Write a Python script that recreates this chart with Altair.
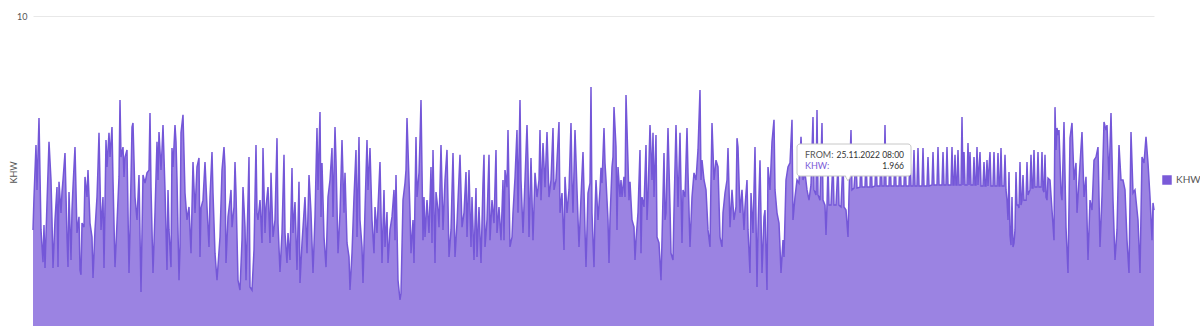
import altair as alt
import pandas as pd

# Meter readings: (period index, kWh). A period is 7 hours, counted from 01.04.2022 15:00.
START = "2022-04-01 15:00"
PERIOD_HOURS = 7
SERIES = "KHW"

segment_1 = [(0,3.10),(1,4.16),(3,5.84),(4,4.39),(6,6.71),(8,3.10),(10,2.06),(11,3.26),(12,1.87),(14,3.97),(16,5.94),(18,4.71),(19,3.42),(20,1.87),(22,3.42),(24,4.48),(25,1.90),(26,4.65),(28,3.65),(29,4.32),(30,4.71),(32,5.58),(34,2.87),(35,1.90),(36,4.32),(38,2.13),(39,3.74),(40,4.48),(42,5.77),(44,3.00),(46,3.52),(47,1.81),(48,1.65),(49,3.32),(51,3.19),(52,4.81),(54,4.16),(55,5.03),(57,3.32),(59,2.87),(60,1.55),(62,3.10),(64,4.16),(65,5.13),(66,6.23),(68,3.10),(70,4.16),(71,1.87),(73,6.00),(74,5.13),(76,6.23),(77,5.45),(79,6.42),(80,4.71),(82,1.90),(84,3.32),(86,4.81),(87,7.29),(88,5.45),(90,5.77),(91,4.81),(92,5.45),(94,5.68),(96,1.71),(97,3.10),(99,6.42),(100,6.55),(102,4.16),(104,3.42),(106,4.87),(108,1.10),(110,4.87),(112,4.61),(114,4.94),(116,5.03),(117,6.87),(118,4.48),(120,1.71),(122,3.65),(124,5.94),(125,4.71),(126,6.26),(128,5.03),(129,5.68),(130,6.48),(132,4.39),(134,1.81),(135,4.39),(136,3.10),(138,1.90),(139,5.74),(140,5.13),(142,6.48),(143,5.94),(144,4.71),(146,1.48),(147,2.55),(148,6.23),(150,6.81),(152,4.29),(154,3.42),(156,3.84),(158,2.35),(159,3.84),(160,5.29),(162,3.65),(164,5.13),(166,5.42),(167,2.23),(168,3.81),(170,4.06),(172,5.29),(174,3.84),(176,2.55),(177,4.16),(179,5.61),(180,4.29),(182,2.35),(184,1.48)]

segment_2 = [(187,2.87),(189,5.03),(191,5.77),(192,5.13),(193,2.03),(195,3.52),(197,4.06),(198,4.39),(199,3.19),(201,3.84),(202,5.29),(203,4.29),(205,1.48),(207,1.16),(209,2.77),(210,4.48),(212,3.19),(213,1.48),(215,4.06),(216,5.45),(217,1.26),(219,1.16),(221,2.45),(223,5.84),(224,3.65),(225,3.42),(227,4.06),(229,2.68),(230,5.74),(232,3.00),(233,3.84),(235,4.48),(237,2.68),(238,4.94),(240,2.87),(242,3.42),(244,6.06),(245,3.32),(247,1.74),(249,3.00),(251,5.52),(252,3.00),(254,2.03),(255,3.00),(257,2.13),(259,5.10),(260,3.00),(262,4.00),(264,1.81),(266,4.65),(267,1.39),(269,2.68),(272,4.16),(274,2.35),(276,4.87),(278,3.65),(280,1.71),(282,3.52),(284,6.39),(285,4.39),(287,6.90),(288,3.52),(289,5.26),(291,2.87),(293,1.90),(295,4.16),(297,4.71),(299,5.74),(300,3.52),(302,6.42),(303,5.35),(305,2.35),(307,3.65),(309,6.00),(311,3.65),(312,4.94),(314,2.68),(316,2.23),(317,1.16),(319,2.35),(321,4.16),(323,5.68),(324,2.87),(326,6.10),(327,3.42),(329,2.55),(330,1.39),(332,3.74),(334,6.00),(335,4.39),(337,5.74),(339,3.42),(341,2.35),(342,3.84),(344,3.00),(345,3.81),(347,5.29),(349,2.03),(351,4.39),(352,2.55),(354,3.68),(355,2.03),(357,3.10),(359,3.52),(361,4.39),(362,2.77),(363,4.87),(365,1.48),(367,0.84)]

segment_3 = [(368,1.06),(370,4.06),(372,4.61),(373,5.03),(374,6.71),(376,4.71),(377,3.65),(378,2.35),(380,3.42),(381,2.03),(383,6.10),(384,4.16),(386,4.94),(387,6.00),(388,7.29),(390,2.77),(391,4.16),(392,2.87),(394,4.06),(396,3.00),(398,5.13),(399,2.68),(400,5.68),(402,2.03),(403,4.32),(405,3.74),(406,3.19),(408,5.84),(410,3.10),(412,4.71),(414,5.68),(416,2.23),(418,3.10),(420,5.58),(422,2.23),(424,3.32),(427,5.52),(429,3.19),(431,3.65),(433,4.97),(434,2.87),(436,5.03),(438,2.55),(439,4.16),(441,2.13),(443,4.45),(444,2.23),(446,3.84),(448,2.03),(450,4.61),(451,5.52),(452,2.55),(454,3.42),(456,5.52),(457,2.77),(459,4.06),(461,3.32),(463,5.68),(464,3.00),(466,3.84),(468,2.77),(470,4.71),(471,2.77),(472,5.03),(474,4.48),(475,6.32),(477,2.55),(479,2.87),(480,3.65),(482,4.77),(484,6.32),(485,3.65),(487,7.29),(488,4.71),(490,3.00),(492,4.71),(494,6.48),(495,5.26),(496,2.87),(498,5.42),(500,2.77),(502,4.94),(504,4.16),(506,4.71),(507,6.32),(508,4.06),(510,5.90),(512,4.48),(514,6.26),(516,4.16),(518,4.71),(520,6.39),(521,4.39),(523,4.71),(526,6.58),(527,3.65),(529,4.29),(531,2.45),(532,4.81),(534,3.65),(536,4.39),(538,6.55),(539,4.71),(540,3.65),(542,6.32),(544,4.39),(546,2.55),(548,4.16),(550,5.61),(552,3.10),(553,1.90)]

segment_4 = [(555,4.29),(557,4.61),(558,7.71),(559,3.65),(561,1.90),(562,3.65),(563,4.71),(565,3.42),(567,4.39),(568,5.10),(569,4.61),(571,6.39),(572,5.26),(573,4.71),(575,3.42),(576,2.03),(577,3.42),(579,5.13),(580,5.45),(581,7.06),(583,5.77),(584,3.10),(585,5.13),(587,4.16),(588,4.71),(589,4.16),(591,4.81),(592,4.16),(593,7.45),(595,5.26),(596,4.06),(597,4.65),(599,3.42),(601,3.19),(602,2.13),(603,2.77),(605,3.65),(607,5.68),(608,2.35),(609,4.16),(611,3.84),(613,5.84),(614,3.42),(615,4.16),(617,6.48),(619,4.71),(620,6.23),(621,4.16),(623,6.16),(624,2.87),(626,2.68),(628,1.48),(629,2.77),(631,5.58),(632,3.42),(633,3.65),(635,6.39),(637,3.84),(638,2.35),(640,2.13),(641,3.74),(643,6.48),(645,3.84),(647,6.23),(649,2.68),(650,4.39),(652,4.16),(654,6.39),(655,4.94),(657,2.55),(659,4.16),(661,4.94),(663,4.71),(665,5.68),(667,7.61),(668,4.71),(669,5.35),(671,4.71),(673,4.39),(675,3.10),(677,2.55),(678,4.71),(679,6.55),(681,4.71),(683,5.35),(685,5.13),(687,2.87),(689,2.55),(690,3.65),(692,4.29),(694,4.71),(695,5.74),(697,3.19),(699,4.39),(701,3.42),(703,3.84),(704,6.06),(705,5.77),(707,3.65),(709,4.39),(711,3.10),(712,3.84),(714,4.71),(715,3.10),(717,1.71),(718,4.29),(720,3.00),(722,5.77),(724,1.26),(725,3.10),(727,5.35),(729,1.71),(731,3.52),(732,3.74),(734,1.16),(735,5.13),(737,4.39),(739,5.94),(741,6.65)]

segment_5 = [(742,4.39),(744,3.65),(746,3.32),(747,2.55),(748,1.71),(750,2.77),(751,2.23),(753,4.71),(755,5.13),(757,5.26),(759,6.65),(760,3.42),(762,4.16),(764,4.71),(766,4.61),(768,6.10),(770,4.71),(772,4.94),(774,4.39),(776,4.06),(778,4.55),(780,6.74),(781,4.39),(783,4.23),(784,6.97),(785,4.23),(787,4.06),(789,6.55),(790,4.06),(792,3.90),(793,2.94),(794,3.90),(795,5.19),(796,3.90),(798,3.90),(800,5.35),(801,3.90),(803,3.90),(805,5.19),(806,3.90),(808,3.84),(810,5.35),(811,3.84),(813,3.74),(815,2.87),(816,4.23),(818,6.32),(819,4.39)]

segment_6 = [(821,4.45),(823,5.35),(824,4.45),(827,4.48),(828,5.52),(829,4.48),(832,4.48),(833,5.42),(834,4.48),(837,4.48),(838,5.68),(839,4.48),(842,4.52),(843,5.52),(844,4.52),(847,4.52),(848,5.61),(849,4.52),(851,4.52),(852,6.48),(853,4.52),(856,4.52),(857,5.52),(858,4.52),(861,4.52),(862,5.68),(863,4.52),(866,4.52),(867,5.42),(868,4.52),(871,4.52),(872,5.68),(873,4.52),(876,4.52),(877,5.52),(878,4.52),(880,4.52),(881,5.68),(882,4.52),(884,4.52),(885,5.74),(886,4.52),(889,4.52),(890,5.74),(891,4.52),(894,4.52),(895,5.45),(896,4.52),(899,4.55),(900,5.61),(901,4.55),(904,4.55),(905,5.77),(906,4.55),(909,4.55),(910,5.61),(911,4.55),(913,4.55),(914,5.77),(915,4.55),(918,4.55),(919,5.77),(920,4.55),(921,4.55),(922,5.52),(923,4.55),(924,4.55),(925,5.68),(926,4.55),(928,4.55),(929,6.74),(930,4.55),(931,5.61),(932,4.55),(934,4.55),(935,5.90),(936,4.55),(937,5.61),(938,4.55),(940,4.55),(941,5.45),(942,4.55),(943,4.55),(944,5.77),(945,4.55),(947,5.61),(948,4.52),(950,4.52),(951,5.29),(952,4.52),(953,4.52),(954,5.35),(955,4.52),(957,5.61),(958,4.52),(960,4.52),(961,5.61),(962,4.52),(964,4.52),(965,5.58),(966,4.52),(967,4.52),(968,5.74),(969,4.52),(971,4.52),(972,5.52),(973,4.39)]

segment_7 = [(974,4.06),(975,3.42),(976,4.97),(977,2.94),(978,2.61),(979,4.16),(980,2.55),(981,2.68),(982,3.10),(983,4.97),(984,3.90),(985,3.90),(986,3.81),(987,5.29),(988,3.90),(989,4.06),(990,4.87),(991,4.06),(993,4.06),(994,5.29),(995,4.23),(997,4.39),(998,5.52),(999,4.45),(1000,4.45),(1001,5.68),(1002,4.48),(1004,4.48),(1005,5.61),(1006,4.48),(1008,4.48),(1009,5.61),(1010,4.39),(1011,4.32),(1012,5.52),(1013,4.16),(1014,4.06),(1015,4.77),(1017,4.71),(1019,3.74),(1021,2.77),(1022,7.06),(1023,5.68),(1024,6.39),(1025,6.16),(1026,6.32),(1028,4.29),(1029,4.06),(1031,6.58),(1033,3.19),(1035,1.71),(1037,6.06),(1039,6.55),(1041,4.71),(1043,5.26),(1044,3.65),(1046,4.71),(1049,6.26),(1051,4.16),(1053,4.81),(1055,2.13),(1057,4.06),(1059,3.74),(1061,5.35),(1063,5.45),(1065,5.77),(1067,2.55),(1069,4.19),(1071,6.58),(1073,6.32),(1074,6.48),(1076,4.71),(1078,6.87),(1080,4.06),(1082,2.13),(1084,3.10),(1086,5.84),(1088,4.71),(1090,4.71),(1092,4.39),(1094,2.77),(1096,1.71),(1098,6.26),(1100,4.29),(1102,4.39),(1105,3.42),(1107,1.71),(1109,5.45),(1111,5.26),(1113,6.10),(1115,5.26),(1117,4.16),(1119,2.77),(1120,3.97),(1121,3.74)]

y_ticks = [10]
y_domain = [0, 10]

tooltip_labels = ["FROM:", "KHW:"]
tooltip_values = ["25.11.2022 08:00", "1.966"]

LINE = "#7457d8"
FILL = "#7a5ad8"
FONT = "Lato"

rows = segment_1 + segment_2 + segment_3 + segment_4 + segment_5 + segment_6 + segment_7
df = pd.DataFrame(rows, columns=["period", "kwh"])
df["time"] = pd.Timestamp(START) + pd.to_timedelta(df["period"] * PERIOD_HOURS, unit="h")
df["series"] = SERIES
df["time"] = df["time"].dt.strftime("%Y-%m-%dT%H:%M:%S")

x_enc = alt.X("time:T", axis=None, scale=alt.Scale(nice=False, padding=0))
y_enc = alt.Y(
    "kwh:Q",
    scale=alt.Scale(domain=y_domain, nice=False),
    axis=alt.Axis(
        values=y_ticks, title=SERIES, grid=True, gridColor="#e8e8e8", domain=False,
        ticks=False, labelFontSize=9, labelColor="#555555", labelPadding=6,
        labelFont=FONT, titleFont=FONT, titleFontSize=9, titleFontWeight="normal",
        titleColor="#555555", titleX=-20, titleY=156, titleAlign="center",
        titleBaseline="middle",
    ),
)

base = alt.Chart(df)
area = base.mark_area(fillOpacity=0.75, interpolate="linear").encode(
    x=x_enc,
    y=y_enc,
    color=alt.Color(
        "series:N",
        scale=alt.Scale(domain=[SERIES], range=[FILL]),
        legend=alt.Legend(
            title=None, orient="none", legendX=1129, legendY=159,
            symbolType="square", symbolSize=90, symbolOpacity=1,
            symbolStrokeWidth=0, labelFontSize=10, labelColor="#555555",
            labelFont=FONT, labelOffset=4,
        ),
    ),
)
line = base.mark_line(color=LINE, strokeWidth=1.5, interpolate="linear").encode(
    x=x_enc, y=alt.Y("kwh:Q")
)

one = pd.DataFrame({"a": [0]})
pointer = alt.Chart(one).mark_point(
    shape="triangle-down", filled=True, fill="white", stroke="#c8c8c8",
    strokeWidth=1, size=45, opacity=1,
).encode(x=alt.value(815), y=alt.value(162))
box = alt.Chart(one).mark_rect(
    fill="white", stroke="#c8c8c8", strokeWidth=1, cornerRadius=3,
).encode(x=alt.value(764), x2=alt.value(878), y=alt.value(128), y2=alt.value(160))
pointer_cover = alt.Chart(one).mark_point(
    shape="triangle-down", filled=True, fill="white", strokeWidth=0,
    size=30, opacity=1,
).encode(x=alt.value(815), y=alt.value(161))

tip_layers = []
tip_rows_y = [139, 150]
label_colors = ["#555555", "#7a5ad8"]
for i in range(len(tooltip_labels)):
    row = pd.DataFrame({"label": [tooltip_labels[i]], "value": [tooltip_values[i]]})
    tip_layers.append(
        alt.Chart(row).mark_text(
            align="left", baseline="middle", fontSize=9, font=FONT, color=label_colors[i]
        ).encode(x=alt.value(772), y=alt.value(tip_rows_y[i]), text="label:N")
    )
    tip_layers.append(
        alt.Chart(row).mark_text(
            align="right", baseline="middle", fontSize=8.5, font=FONT, color="#333333"
        ).encode(x=alt.value(871), y=alt.value(tip_rows_y[i]), text="value:N")
    )

chart = (
    alt.layer(area, line, pointer, box, pointer_cover, *tip_layers)
    .properties(
        width=1121, height=310,
        autosize=alt.AutoSizeParams(type="none"),
        padding={"left": 33, "top": 16, "right": 46, "bottom": 3},
        background="white",
    )
    .configure_view(strokeWidth=0)
)

chart.save("out.html", embed_options={"renderer": "svg", "actions": False})
